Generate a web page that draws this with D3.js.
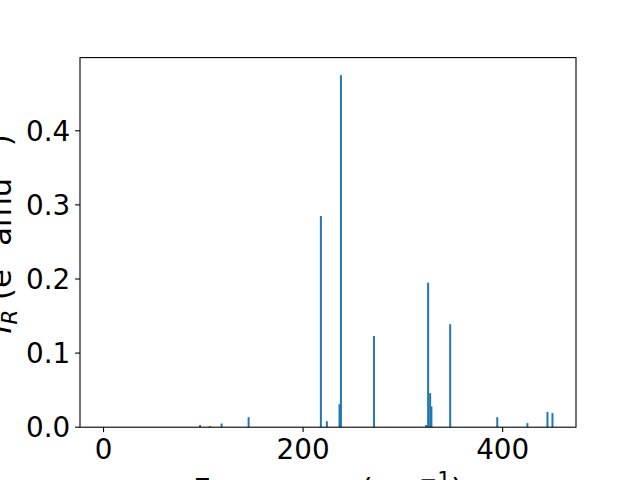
<!DOCTYPE html>
<html>
<head>
<meta charset="utf-8">
<script src="https://cdn.jsdelivr.net/npm/d3@7"></script>
<style>
  html, body { margin: 0; padding: 0; background: #fff; }
  svg { display: block; }
  text { font-family: "DejaVu Sans", sans-serif; fill: #000; }
</style>
</head>
<body>
<svg id="chart" width="640" height="480"></svg>
<script>
// Frequencies (cm^-1) and IR intensities
const frequencies = [0, 96.8, 106.5, 118.3, 145.4, 217.8, 223.8, 236.5, 237.9, 271.0,
                     323.3, 325.3, 327.3, 328.6, 347.4, 394.6, 424.8, 444.9, 449.9];
const intensities = [0, 0.003, 0.0015, 0.005, 0.0135, 0.285, 0.008, 0.031, 0.475, 0.123,
                     0.003, 0.195, 0.046, 0.028, 0.139, 0.0135, 0.0055, 0.0205, 0.019];
const xTicks = [0, 200, 400];
const yTicks = [0.0, 0.1, 0.2, 0.3, 0.4];
const barWidth = 2;

const svg = d3.select("#chart");
const mLeft = 80, mRight = 576, mTop = 57.6, mBottom = 427.2;
const tickFont = 27.8, labelFont = 30.6, tickLen = 4.9;

const xmin = d3.min(frequencies) - barWidth / 2;
const xmax = d3.max(frequencies) + barWidth / 2;
const xpad = (xmax - xmin) * 0.05;
const x = d3.scaleLinear().domain([xmin - xpad, xmax + xpad]).range([mLeft, mRight]);
const ymax = d3.max(intensities) * 1.05;
const y = d3.scaleLinear().domain([0, ymax]).range([mBottom, mTop]);

// Bars
svg.append("g").selectAll("rect")
  .data(frequencies.map((f, i) => ({ f, v: intensities[i] })))
  .join("rect")
  .attr("x", d => x(d.f - barWidth / 2))
  .attr("width", d => x(d.f + barWidth / 2) - x(d.f - barWidth / 2))
  .attr("y", d => y(d.v))
  .attr("height", d => y(0) - y(d.v))
  .attr("fill", "#1f77b4");

// Frame
svg.append("rect")
  .attr("x", mLeft).attr("y", mTop)
  .attr("width", mRight - mLeft).attr("height", mBottom - mTop)
  .attr("fill", "none").attr("stroke", "#000").attr("stroke-width", 1.1);

// X axis ticks
const xg = svg.append("g");
xTicks.forEach(t => {
  xg.append("line")
    .attr("x1", x(t)).attr("x2", x(t))
    .attr("y1", mBottom).attr("y2", mBottom + tickLen)
    .attr("stroke", "#000").attr("stroke-width", 1.1);
  xg.append("text")
    .attr("x", x(t)).attr("y", 459)
    .attr("text-anchor", "middle")
    .attr("font-size", tickFont)
    .text(d3.format("d")(t));
});

// Y axis ticks
const yg = svg.append("g");
yTicks.forEach(t => {
  yg.append("line")
    .attr("x1", mLeft - tickLen).attr("x2", mLeft)
    .attr("y1", y(t)).attr("y2", y(t))
    .attr("stroke", "#000").attr("stroke-width", 1.1);
  yg.append("text")
    .attr("x", mLeft - tickLen - 4.9).attr("y", y(t) + 10)
    .attr("text-anchor", "end")
    .attr("font-size", tickFont)
    .text(d3.format(".1f")(t));
});

// X label
const xl = svg.append("text")
  .attr("x", (mLeft + mRight) / 2).attr("y", 500)
  .attr("text-anchor", "middle")
  .attr("font-size", labelFont);
xl.append("tspan").text("Frequency (cm");
xl.append("tspan").attr("font-size", labelFont * 0.7).attr("dy", -labelFont * 0.42).text("\u22121");
xl.append("tspan").attr("dy", labelFont * 0.42).text(")");

// Y label
const yl = svg.append("text")
  .attr("transform", `translate(11, 234) rotate(-90)`)
  .attr("text-anchor", "middle")
  .attr("font-size", labelFont);
yl.append("tspan").attr("font-style", "italic").text("I");
yl.append("tspan").attr("font-style", "italic").attr("font-size", labelFont * 0.7)
  .attr("dy", labelFont * 0.2).text("R");
yl.append("tspan").attr("dy", -labelFont * 0.2).text(" (e");
yl.append("tspan").attr("font-size", labelFont * 0.7).attr("dy", -labelFont * 0.42).text("2");
yl.append("tspan").attr("dy", labelFont * 0.42).text(" amu");
yl.append("tspan").attr("font-size", labelFont * 0.7).attr("dy", -labelFont * 0.42).text("\u22121");
yl.append("tspan").attr("dy", labelFont * 0.42).text(")");
</script>
</body>
</html>
